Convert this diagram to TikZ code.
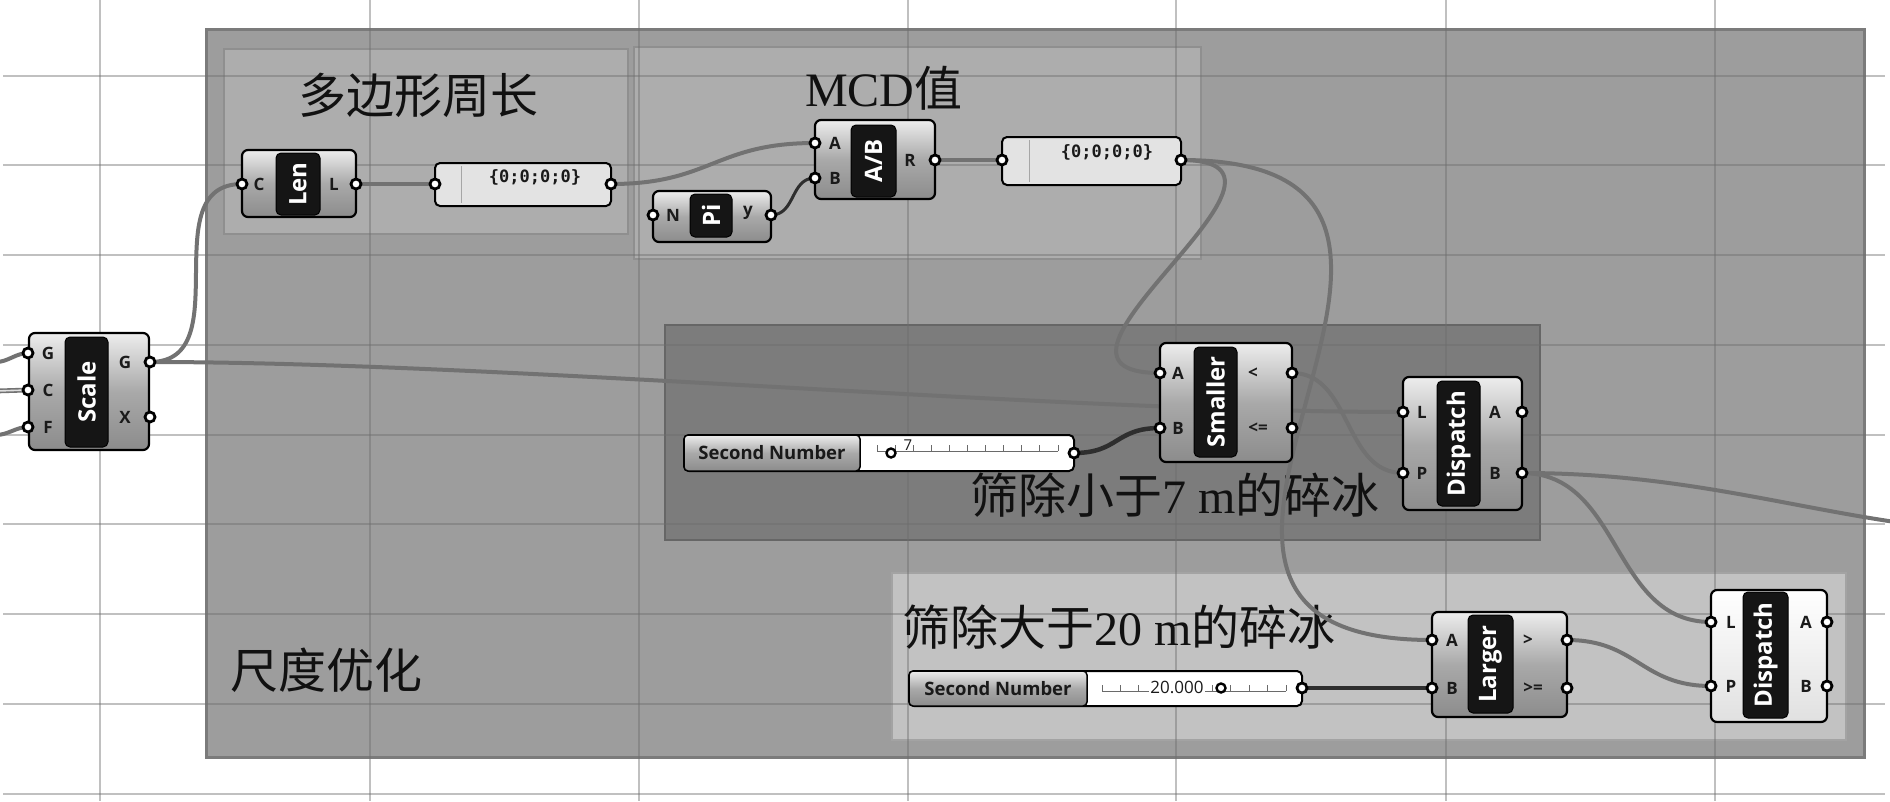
\documentclass[tikz,border=0pt]{standalone}
\usepackage{fontspec}
\setmainfont{Liberation Serif}
\newfontfamily\cjk{Noto Sans CJK SC}
\newfontfamily\ghf{Open Sans}
\newfontfamily\ghmono{DejaVu Sans Mono}
\pgfdeclarelayer{bg}
\pgfdeclarelayer{wirel}
\pgfsetlayers{bg,wirel,main}
\definecolor{gridc}{HTML}{6E6E6E}
\definecolor{grpouter}{HTML}{9D9D9D}
\definecolor{grpouterb}{HTML}{7B7B7B}
\definecolor{grplight}{HTML}{ADADAD}
\definecolor{grplightb}{HTML}{8F8F8F}
\definecolor{grpdark}{HTML}{7C7C7C}
\definecolor{grpdarkb}{HTML}{666666}
\definecolor{grplarge}{HTML}{C2C2C2}
\definecolor{grplargeb}{HTML}{A3A3A3}
\definecolor{wirec}{HTML}{727272}
\definecolor{dwirec}{HTML}{2E2E2E}
\definecolor{bodytop}{HTML}{EDEDED}
\definecolor{bodymid}{HTML}{A9A9A9}
\definecolor{bodybot}{HTML}{8C8C8C}
\definecolor{stripc}{HTML}{151515}
\definecolor{labc}{HTML}{1A1A1A}
\definecolor{panelc}{HTML}{E3E3E3}
\definecolor{titlec}{HTML}{111111}
\definecolor{tickc}{HTML}{6A6A6A}
\begin{document}
\begin{tikzpicture}[x=1pt,y=-1pt,
  gridline/.style={draw=gridc, draw opacity=0.43, line width=2.2pt},
  wire/.style={draw=wirec, line width=4pt},
  dwire/.style={draw=dwirec, line width=4.5pt},
  body/.style={draw=black, line width=2.2pt, rounded corners=6pt, top color=bodytop, bottom color=bodybot, middle color=bodymid, inner sep=0pt},
  wbody/.style={draw=black, line width=2.2pt, rounded corners=6pt, top color=white, bottom color=white!88!black, inner sep=0pt},
  strip/.style={fill=stripc, draw=black, line width=1pt, rounded corners=5pt, inner sep=0pt, text=white, font=\ghf\bfseries\fontsize{24}{24}\selectfont, rotate=90},
  port/.style={circle, draw=black, fill=white, line width=2.8pt, minimum size=10pt, inner sep=0pt},
  plabel/.style={font=\ghf\bfseries\fontsize{17}{17}\selectfont, text=labc, inner sep=0pt},
  panel/.style={draw=black, line width=2pt, rounded corners=5pt, fill=panelc, inner sep=0pt},
  paneltext/.style={font=\ghmono\bfseries\fontsize{17}{17}\selectfont, text=labc, inner sep=0pt},
  sliderbox/.style={draw=black, line width=2pt, rounded corners=5pt, fill=white, inner sep=0pt},
  sliderlab/.style={draw=black, line width=1.5pt, rounded corners=4pt, top color=bodytop, bottom color=bodybot, middle color=bodymid, inner sep=0pt, font=\ghf\bfseries\fontsize{18.5}{18.5}\selectfont, text=labc},
  tickl/.style={draw=tickc, line width=1pt},
  grip/.style={circle, draw=black, fill=white, line width=2.4pt, minimum size=9pt, inner sep=0pt},
  title/.style={font=\fontsize{48}{48}\selectfont, text=titlec, inner sep=0pt, anchor=base west}
]
\useasboundingbox (0,0) rectangle (1890,801);

% ---------------- background, groups, grid, titles
\begin{pgfonlayer}{bg}
\fill[white] (0,0) rectangle (1890,801);
\draw[fill=grpouter, draw=grpouterb, line width=3pt] (206,29) rectangle (1864,757);
\draw[fill=grplight, draw=grplightb, line width=2pt] (224,49) rectangle (628,234);
\draw[fill=grplight, draw=grplightb, line width=2pt] (634,47) rectangle (1201,259);
\draw[fill=grpdark, draw=grpdarkb, line width=2pt] (665,325) rectangle (1540,540);
\draw[fill=grplarge, draw=grplargeb, line width=2pt] (892,573) rectangle (1846,740);
\foreach \x in {100,370,639,908,1176,1446,1715}
  \draw[gridline] (\x,0) -- (\x,801);
\foreach \y in {76,165,255,345,435,524,614,704,794}
  \draw[gridline] (3,\y) -- (1885,\y);
\node[title] (tPoly) at (298,113) {\cjk 多边形周长};
\node[title] (tMCD) at (805,106) {MCD{\cjk 值}};
\node[title] (tScale) at (230,688) {\cjk 尺度优化};
\node[title] (tSmall) at (970,513) {{\cjk 筛除小于}7 m{\cjk 的碎冰}};
\node[title] (tLarge) at (902,645) {{\cjk 筛除大于}20 m{\cjk 的碎冰}};
\end{pgfonlayer}

% ---------------- Scale
\node[body, minimum width=120, minimum height=117] (scale) at (89,391.5) {};
\node[strip, minimum width=110, minimum height=43] (scaleS) at (86.5,392) {Scale};
\node[port] (scaleGi) at (28,353) {};
\node[port] (scaleCi) at (28,390) {};
\node[port] (scaleFi) at (28,427) {};
\node[port] (scaleGo) at (150,362) {};
\node[port] (scaleXo) at (150,417) {};
\node[plabel] (lScG) at (48,353) {G};
\node[plabel] (lScC) at (48,390) {C};
\node[plabel] (lScF) at (48,427) {F};
\node[plabel] (lScGo) at (125,362) {G};
\node[plabel] (lScX) at (125,417) {X};
\coordinate (inG) at (-4,362);
\coordinate (inC) at (-4,391);
\coordinate (inF) at (-4,435);

% ---------------- Len
\node[body, minimum width=114, minimum height=67] (len) at (299,183.5) {};
\node[strip, minimum width=62, minimum height=44] (lenS) at (298,184) {Len};
\node[port] (lenC) at (242,184) {};
\node[port] (lenL) at (356,184) {};
\node[plabel] (lLenC) at (259,184) {C};
\node[plabel] (lLenL) at (334,184) {L};

% ---------------- Panel 1
\node[panel, minimum width=176, minimum height=43] (pan1) at (523,184.5) {};
\draw[draw=black!35, line width=1pt] (461,166) -- (461,203);
\node[paneltext] (pan1t) at (535,177) {\{0;0;0;0\}};
\node[port] (pan1i) at (435,184) {};
\node[port] (pan1o) at (611,184) {};

% ---------------- Pi
\node[body, minimum width=118, minimum height=51] (pi) at (712,216.5) {};
\node[strip, minimum width=43, minimum height=42] (piS) at (711,215.5) {Pi};
\node[port] (piN) at (653,215) {};
\node[port] (piY) at (771,215) {};
\node[plabel] (lPiN) at (673,215) {N};
\node[plabel] (lPiY) at (748,213) {y};

% ---------------- A/B
\node[body, minimum width=120, minimum height=79] (ab) at (875,159.5) {};
\node[strip, minimum width=72, minimum height=45] (abS) at (873.5,161) {A/B};
\node[port] (abA) at (815,143) {};
\node[port] (abB) at (815,178) {};
\node[port] (abR) at (935,160) {};
\node[plabel] (lAbA) at (835,143) {A};
\node[plabel] (lAbB) at (835,178) {B};
\node[plabel] (lAbR) at (910,160) {R};

% ---------------- Panel 2
\node[panel, minimum width=179, minimum height=48] (pan2) at (1091.5,161) {};
\draw[draw=black!35, line width=1pt] (1029,140) -- (1029,182);
\node[paneltext] (pan2t) at (1107,152) {\{0;0;0;0\}};
\node[port] (pan2i) at (1002,160) {};
\node[port] (pan2o) at (1181,160) {};

% ---------------- Slider 1
\node[sliderbox, minimum width=390, minimum height=36] (sl1) at (879,453) {};
\node[sliderlab, minimum width=176, minimum height=36] (sl1lab) at (772,453) {Second Number};
\draw[tickl] (877,451) -- (1058,451);
\foreach \i in {0,...,10} \draw[tickl] ({877+18.1*\i},451) -- ++(0,-6);
\node[grip] (sl1g) at (891,453) {};
\node[font=\ghf\fontsize{15}{15}\selectfont, inner sep=0pt, text=labc] (sl1v) at (908,445) {7};
\node[port] (sl1o) at (1074,453) {};

% ---------------- Smaller
\node[body, minimum width=132, minimum height=119] (sm) at (1226,402.5) {};
\node[strip, minimum width=110, minimum height=43] (smS) at (1215.5,402) {Smaller};
\node[port] (smA) at (1160,373) {};
\node[port] (smB) at (1160,428) {};
\node[port] (smLt) at (1292,373) {};
\node[port] (smLe) at (1292,428) {};
\node[plabel] (lSmA) at (1178,373) {A};
\node[plabel] (lSmB) at (1178,428) {B};
\node[plabel] (lSmLt) at (1253,373) {<};
\node[plabel] (lSmLe) at (1258,428) {<=};

% ---------------- Dispatch 1
\node[body, minimum width=119, minimum height=133] (d1) at (1462.5,443.5) {};
\node[strip, minimum width=125, minimum height=43] (d1S) at (1458.5,443.5) {Dispatch};
\node[port] (d1L) at (1403,412) {};
\node[port] (d1P) at (1403,473) {};
\node[port] (d1A) at (1522,412) {};
\node[port] (d1B) at (1522,473) {};
\node[plabel] (lD1L) at (1422,412) {L};
\node[plabel] (lD1P) at (1422,473) {P};
\node[plabel] (lD1A) at (1495,412) {A};
\node[plabel] (lD1B) at (1495,473) {B};
\coordinate (offR) at (1895,522);

% ---------------- Slider 2
\node[sliderbox, minimum width=393, minimum height=35] (sl2) at (1105.5,688.5) {};
\node[sliderlab, minimum width=178, minimum height=35] (sl2lab) at (998,688.5) {Second Number};
\draw[tickl] (1102,691) -- (1286,691);
\foreach \i in {0,...,10} \draw[tickl] ({1102+18.4*\i},691) -- ++(0,-6);
\node[fill=white, font=\ghf\fontsize{17}{17}\selectfont, inner sep=1pt, text=labc] (sl2v) at (1177,687) {20.000};
\node[grip] (sl2g) at (1221,688) {};
\node[port] (sl2o) at (1302,688) {};

% ---------------- Larger
\node[body, minimum width=135, minimum height=105] (lg) at (1499.5,664.5) {};
\node[strip, minimum width=98, minimum height=45] (lgS) at (1490.5,664) {Larger};
\node[port] (lgA) at (1432,640) {};
\node[port] (lgB) at (1432,688) {};
\node[port] (lgGt) at (1567,640) {};
\node[port] (lgGe) at (1567,688) {};
\node[plabel] (lLgA) at (1452,640) {A};
\node[plabel] (lLgB) at (1452,688) {B};
\node[plabel] (lLgGt) at (1528,640) {>};
\node[plabel] (lLgGe) at (1533,688) {>=};

% ---------------- Dispatch 2
\node[wbody, minimum width=116, minimum height=132] (d2) at (1769,656) {};
\node[strip, minimum width=126, minimum height=45] (d2S) at (1765.5,655) {Dispatch};
\node[port] (d2L) at (1711,622) {};
\node[port] (d2P) at (1711,686) {};
\node[port] (d2A) at (1827,622) {};
\node[port] (d2B) at (1827,686) {};
\node[plabel] (lD2L) at (1731,622) {L};
\node[plabel] (lD2P) at (1731,686) {P};
\node[plabel] (lD2A) at (1806,622) {A};
\node[plabel] (lD2B) at (1806,686) {B};

% ---------------- wires
\begin{pgfonlayer}{wirel}
\draw[wire] (inG) .. controls +(12,0) and +(-12,0) .. (scaleGi.center);
\draw[draw=wirec, line width=1.6pt, double=white!75!gray, double distance=1.6pt] (inC) -- (scaleCi.center);
\draw[wire] (inF) .. controls +(12,0) and +(-12,0) .. (scaleFi.center);
\draw[wire] (scaleGo.center) .. controls +(90,0) and +(-90,0) .. (lenC.center);
\draw[wire] (scaleGo.center) .. controls +(350,0) and +(-350,0) .. (d1L.center);
\draw[wire] (lenL.center) -- (pan1i.center);
\draw[wire] (pan1o.center) .. controls +(100,0) and +(-100,0) .. (abA.center);
\draw[dwire, line width=3pt] (piY.center) .. controls +(25,0) and +(-25,0) .. (abB.center);
\draw[wire] (abR.center) -- (pan2i.center);
\draw[wire] (pan2o.center) .. controls +(160,0) and +(-160,0) .. (smA.center);
\draw[wire] (pan2o.center) .. controls +(380,0) and +(-380,0) .. (lgA.center);
\draw[dwire] (sl1o.center) .. controls +(45,0) and +(-45,0) .. (smB.center);
\draw[wire] (smLt.center) .. controls +(60,0) and +(-60,0) .. (d1P.center);
\draw[wire] (d1B.center) .. controls +(150,0) and +(-120,-18) .. (offR);
\draw[wire] (d1B.center) .. controls +(100,0) and +(-100,0) .. (d2L.center);
\draw[wire] (lgGt.center) .. controls +(70,0) and +(-70,0) .. (d2P.center);
\draw[dwire] (sl2o.center) -- (lgB.center);
\end{pgfonlayer}
\end{tikzpicture}
\end{document}
